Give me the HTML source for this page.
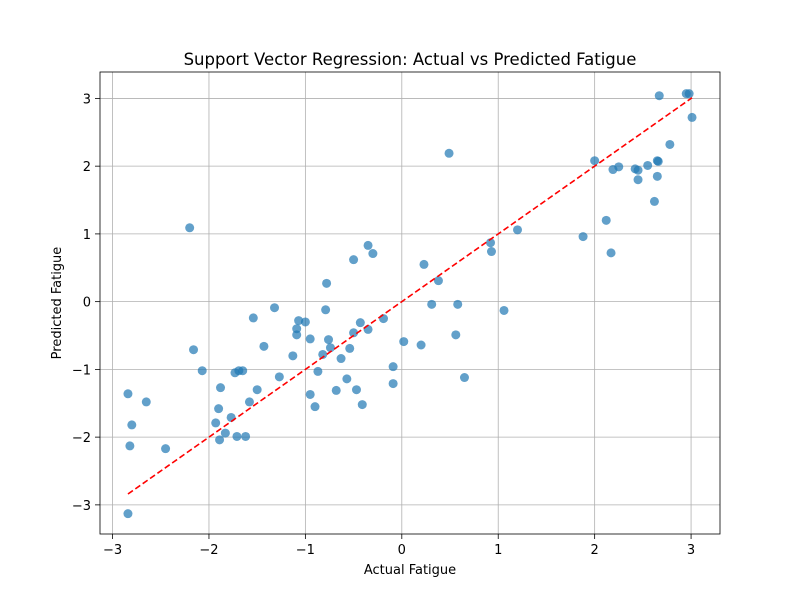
<!DOCTYPE html>
<html><head><meta charset="utf-8"><style>
html,body{margin:0;padding:0;background:#fff;}
svg{display:block;font-family:"DejaVu Sans","Liberation Sans",sans-serif;}
</style></head><body>
<svg id="chart" width="800" height="600"></svg>
<script>
const actual=[-2.84,-2.82,-2.80,-2.84,-2.65,-2.45,-2.20,-2.16,-2.07,-1.93,-1.90,-1.88,-1.89,-1.83,-1.77,-1.73,-1.71,-1.69,-1.65,-1.62,-1.58,-1.54,-1.50,-1.43,-1.32,-1.27,-1.13,-1.09,-1.09,-1.07,-1.00,-0.95,-0.95,-0.90,-0.87,-0.82,-0.78,-0.79,-0.76,-0.74,-0.68,-0.63,-0.57,-0.54,-0.50,-0.50,-0.47,-0.43,-0.41,-0.35,-0.35,-0.30,-0.19,-0.09,-0.09,0.02,0.20,0.23,0.31,0.38,0.49,0.56,0.58,0.65,0.92,0.93,1.06,1.20,1.88,2.00,2.12,2.17,2.19,2.25,2.42,2.45,2.45,2.55,2.62,2.65,2.65,2.66,2.67,2.78,2.95,2.98,3.01];
const predicted=[-1.36,-2.13,-1.82,-3.13,-1.48,-2.17,1.09,-0.71,-1.02,-1.79,-1.58,-1.27,-2.04,-1.94,-1.71,-1.05,-1.99,-1.02,-1.02,-1.99,-1.48,-0.24,-1.30,-0.66,-0.09,-1.11,-0.80,-0.40,-0.49,-0.28,-0.30,-0.55,-1.37,-1.55,-1.03,-0.78,0.27,-0.12,-0.56,-0.68,-1.31,-0.84,-1.14,-0.69,0.62,-0.46,-1.30,-0.31,-1.52,0.83,-0.41,0.71,-0.25,-0.96,-1.21,-0.59,-0.64,0.55,-0.04,0.31,2.19,-0.49,-0.04,-1.12,0.87,0.74,-0.13,1.06,0.96,2.08,1.20,0.72,1.95,1.99,1.96,1.94,1.80,2.01,1.48,2.08,1.85,2.07,3.04,2.32,3.07,3.07,2.72];
const xTicks=[-3,-2,-1,0,1,2,3];
const yTicks=[-3,-2,-1,0,1,2,3];
const xLim=[-3.13,3.30], yLim=[-3.43,3.39];
const L=100,R=720,T=72,B=534;
const sx=v=>L+(v-xLim[0])/(xLim[1]-xLim[0])*(R-L);
const sy=v=>B-(v-yLim[0])/(yLim[1]-yLim[0])*(B-T);
const svg=document.getElementById('chart');
const NS='http://www.w3.org/2000/svg';
function mk(tag,attrs,parent){const e=document.createElementNS(NS,tag);for(const k in attrs)e.setAttribute(k,attrs[k]);(parent||svg).appendChild(e);return e;}
xTicks.forEach(t=>{const e=mk('line',{x1:sx(t),x2:sx(t),y1:T,y2:B,stroke:'#b0b0b0','stroke-width':0.8});


const k=mk('line',{x1:sx(t),x2:sx(t),y1:B,y2:B+5,stroke:'#000','stroke-width':0.8});


const l=mk('text',{x:sx(t),y:B+20,'text-anchor':'middle','font-size':13});l.textContent=(t<0?'\u2212'+(-t):t);

});
yTicks.forEach(t=>{const e=mk('line',{x1:L,x2:R,y1:sy(t),y2:sy(t),stroke:'#b0b0b0','stroke-width':0.8});


const k=mk('line',{x1:L-5,x2:L,y1:sy(t),y2:sy(t),stroke:'#000','stroke-width':0.8});


const l=mk('text',{x:L-9,y:sy(t)+5,'text-anchor':'end','font-size':13});l.textContent=(t<0?'\u2212'+(-t):t);

});
actual.forEach((a,i)=>{const c=mk('circle',{cx:sx(a),cy:sy(predicted[i]),r:4.5,fill:'#1f77b4','fill-opacity':0.7});

});
const mn=Math.min(...actual),mx=Math.max(...actual);
const ln=mk('line',{x1:sx(mn),y1:sy(mn),x2:sx(mx),y2:sy(mx),stroke:'#ff0000','stroke-width':1.6,'stroke-dasharray':'6,3'});


const fr=mk('rect',{x:L,y:T,width:R-L,height:B-T,fill:'none',stroke:'#000','stroke-width':0.8});


const ti=mk('text',{x:(L+R)/2,y:T-7,'text-anchor':'middle','font-size':16.5});ti.textContent='Support Vector Regression: Actual vs Predicted Fatigue';


const xl=mk('text',{x:(L+R)/2,y:574,'text-anchor':'middle','font-size':13});xl.textContent='Actual Fatigue';


const yl=mk('text',{x:61,y:(T+B)/2,'text-anchor':'middle','font-size':13,transform:'rotate(-90 61 '+((T+B)/2)+')'});yl.textContent='Predicted Fatigue';


</script>
</body></html>
